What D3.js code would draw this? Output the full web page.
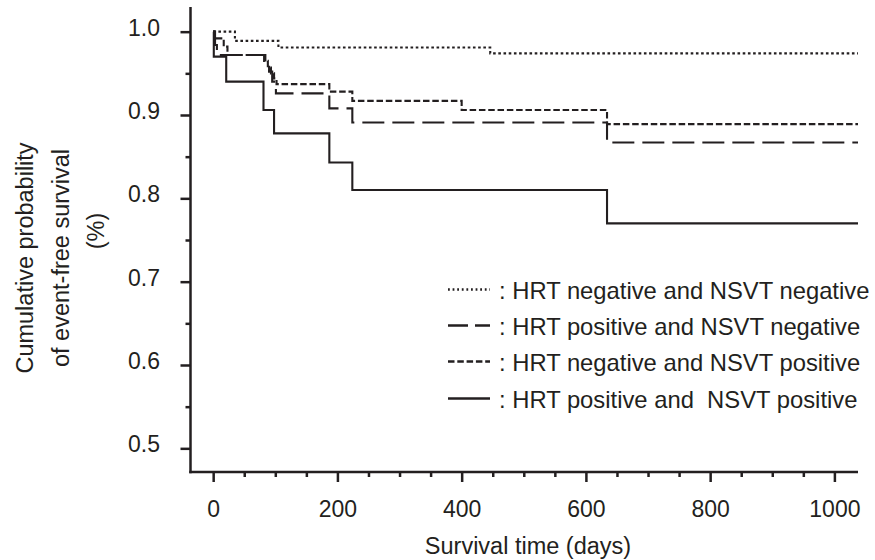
<!DOCTYPE html>
<html><head><meta charset="utf-8">
<script src="https://cdn.jsdelivr.net/npm/d3@7/dist/d3.min.js"></script>
<style>
body{margin:0;background:#fff}
text{font-family:"Liberation Sans",Arial,Helvetica,sans-serif;fill:#231f20}
</style>
</head><body>
<svg id="chart" width="875" height="560"></svg>
<script>
// ---------- data ----------
const followUpEnd = 1038;

const dottedDays = [0, 35, 105, 446];
const dottedSurv = [1.000, 0.989, 0.981, 0.974];

const longDashDays = [0, 3, 6, 84, 90, 95, 101, 187, 224, 634];
const longDashSurv = [1.000, 0.984, 0.972, 0.962, 0.952, 0.940, 0.926, 0.908, 0.891, 0.867];

const shortDashDays = [0, 2, 17, 23, 82, 88, 93, 98, 102, 187, 224, 400, 634];
const shortDashSurv = [1.000, 0.992, 0.982, 0.972, 0.965, 0.957, 0.950, 0.944, 0.937, 0.928, 0.917, 0.906, 0.889];

const solidDays = [0, 1, 21, 81, 98, 187, 224, 634];
const solidSurv = [1.000, 0.970, 0.940, 0.906, 0.878, 0.843, 0.810, 0.770];

const legendLabels = [
  ": HRT negative and NSVT negative",
  ": HRT positive and NSVT negative",
  ": HRT negative and NSVT positive",
  ": HRT positive and  NSVT positive"
];

const xTickValues = [0, 200, 400, 600, 800, 1000];
const xMinorTicks = [50, 100, 150, 250, 300, 350, 450, 500, 550, 650, 700, 750, 850, 900, 950];
const yTickValues = [0.5, 0.6, 0.7, 0.8, 0.9, 1.0];
const yMinorTicks = [0.55, 0.65, 0.75, 0.85, 0.95];

const xTitle = "Survival time (days)";
const yTitleLines = ["Cumulative probability", "of event-free survival", "(%)"];

// ---------- layout ----------
const ink = "#231f20";
const svg = d3.select("#chart");
const x = d3.scaleLinear().domain([-36.5, 1038]).range([190.5, 858]);
const y = d3.scaleLinear().domain([0.4716, 1.0296]).range([472, 7]);
const fontSize = 23;

// ---------- curves ----------
const series = [
  {days: dottedDays, surv: dottedSurv, dash: "2.6,2.6"},
  {days: longDashDays, surv: longDashSurv, dash: "22,8"},
  {days: shortDashDays, surv: shortDashSurv, dash: "6.5,2.8"},
  {days: solidDays, surv: solidSurv, dash: null}
];

const line = d3.line().x(d => x(d[0])).y(d => y(d[1])).curve(d3.curveStepAfter);

series.forEach(s => {
  const pts = s.days.map((d, i) => [d, s.surv[i]]);
  pts.push([followUpEnd, s.surv[s.surv.length - 1]]);
  svg.append("path")
    .attr("d", line(pts))
    .attr("fill", "none")
    .attr("stroke", ink)
    .attr("stroke-width", 2.1)
    .attr("stroke-dasharray", s.dash);
});

// ---------- axes ----------
const xAxis = svg.append("g").attr("transform", `translate(0,${y.range()[0]})`)
  .call(d3.axisBottom(x).tickValues(xTickValues).tickSize(10).tickSizeOuter(0).tickFormat(d3.format("d")));
const xAxisMinor = svg.append("g").attr("transform", `translate(0,${y.range()[0]})`)
  .call(d3.axisBottom(x).tickValues(xMinorTicks).tickSize(5).tickSizeOuter(0).tickFormat(""));
xAxisMinor.select(".domain").remove();

const yAxis = svg.append("g").attr("transform", `translate(${x.range()[0]},0)`)
  .call(d3.axisLeft(y).tickValues(yTickValues).tickSize(10).tickSizeOuter(0).tickFormat(d3.format(".1f")));
const yAxisMinor = svg.append("g").attr("transform", `translate(${x.range()[0]},0)`)
  .call(d3.axisLeft(y).tickValues(yMinorTicks).tickSize(5).tickSizeOuter(0).tickFormat(""));
yAxisMinor.select(".domain").remove();

[xAxis, xAxisMinor, yAxis, yAxisMinor].forEach(g => {
  g.selectAll("path,line").attr("stroke", ink).attr("stroke-width", 2.5);
});
// extend domain lines to meet at the corner
xAxis.select(".domain").attr("d", `M${x.range()[0] - 1.25},0H${x.range()[1]}`);
yAxis.select(".domain").attr("d", `M0,${y.range()[0] + 1.25}V${y.range()[1]}`);

xAxis.selectAll("text").attr("font-size", fontSize).attr("fill", ink)
  .attr("y", 45).attr("dy", 0);
yAxis.selectAll("text").attr("font-size", fontSize).attr("fill", ink)
  .attr("x", -30.5).attr("dy", "0.15em");

// ---------- axis titles ----------
svg.append("text")
  .attr("x", 528).attr("y", 554)
  .attr("text-anchor", "middle")
  .attr("font-size", 23.5)
  .text(xTitle);

const yTitleBaselines = [33, 69, 104];
const yTitleCenters = [258, 258, 231];
yTitleLines.forEach((t, i) => {
  svg.append("text")
    .attr("transform", `translate(${yTitleBaselines[i]},${yTitleCenters[i]}) rotate(-90)`)
    .attr("text-anchor", "middle")
    .attr("font-size", 23.5)
    .text(t);
});

// ---------- legend ----------
const legendBaselines = [299, 335, 371, 408];
const legendDash = ["1.8,2.8", "20,7", "6.5,2.8", null];
legendLabels.forEach((t, i) => {
  const by = legendBaselines[i];
  svg.append("line")
    .attr("x1", 448).attr("x2", 490)
    .attr("y1", by - 9.5).attr("y2", by - 9.5)
    .attr("stroke", ink).attr("stroke-width", 2.5)
    .attr("stroke-dasharray", legendDash[i]);
  svg.append("text")
    .attr("x", 499).attr("y", by)
    .attr("font-size", 23.8)
    .attr("xml:space", "preserve")
    .style("white-space", "pre")
    .text(t);
});
</script>
</body></html>
